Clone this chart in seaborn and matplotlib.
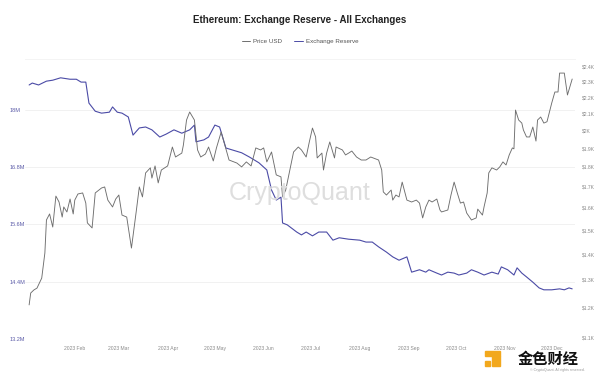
import matplotlib
matplotlib.use("Agg")
import matplotlib.pyplot as plt
import matplotlib.dates as mdates
import matplotlib.ticker as mticker
from matplotlib.lines import Line2D
from matplotlib.patches import Rectangle
import pandas as pd
import seaborn as sns

# ---------------- data ----------------
title = "Ethereum: Exchange Reserve - All Exchanges"
series_names = ["Price USD", "Exchange Reserve"]
watermark = "CryptoQuant"

month_ticks = ["2023-02-01", "2023-03-01", "2023-04-01", "2023-05-01", "2023-06-01",
               "2023-07-01", "2023-08-01", "2023-09-01", "2023-10-01", "2023-11-01",
               "2023-12-01"]
reserve_ticks_m = [13.2, 14.4, 15.6, 16.8, 18.0]          # million ETH
price_ticks_k = [1.1, 1.2, 1.3, 1.4, 1.5, 1.6, 1.7, 1.8, 1.9, 2.0, 2.1, 2.2, 2.3, 2.4]  # thousand USD

reserve_dates = [
    "2023-01-03", "2023-01-05", "2023-01-09", "2023-01-14", "2023-01-18", "2023-01-23",
    "2023-01-29", "2023-02-02", "2023-02-05", "2023-02-08", "2023-02-10", "2023-02-14",
    "2023-02-18", "2023-02-23", "2023-02-25", "2023-02-28", "2023-03-03", "2023-03-07",
    "2023-03-10", "2023-03-14", "2023-03-18", "2023-03-22", "2023-03-27", "2023-03-31",
    "2023-04-05", "2023-04-10", "2023-04-15", "2023-04-18", "2023-04-19", "2023-04-24",
    "2023-04-27", "2023-05-01", "2023-05-04", "2023-05-08", "2023-05-12", "2023-05-18",
    "2023-05-23", "2023-05-29", "2023-06-03", "2023-06-06", "2023-06-09", "2023-06-12",
    "2023-06-13", "2023-06-16", "2023-06-22", "2023-06-25", "2023-06-28", "2023-07-02",
    "2023-07-06", "2023-07-11", "2023-07-15", "2023-07-19", "2023-07-25", "2023-08-01",
    "2023-08-05", "2023-08-09", "2023-08-13", "2023-08-18", "2023-08-22", "2023-08-26",
    "2023-08-31", "2023-09-03", "2023-09-08", "2023-09-12", "2023-09-14", "2023-09-19",
    "2023-09-22", "2023-09-26", "2023-09-30", "2023-10-03", "2023-10-08", "2023-10-11",
    "2023-10-15", "2023-10-19", "2023-10-24", "2023-10-28", "2023-10-30", "2023-11-03",
    "2023-11-07", "2023-11-09", "2023-11-12", "2023-11-15", "2023-11-19", "2023-11-23",
    "2023-11-26", "2023-12-01", "2023-12-06", "2023-12-09", "2023-12-12", "2023-12-14",
]
reserve_millions = [
    18.52, 18.56, 18.52, 18.60, 18.62, 18.67,
    18.64, 18.64, 18.58, 18.58, 18.14, 17.97,
    17.93, 17.95, 18.06, 17.95, 17.93, 17.85,
    17.47, 17.62, 17.64, 17.58, 17.43, 17.49,
    17.58, 17.51, 17.58, 17.68, 17.33, 17.37,
    17.43, 17.68, 17.64, 17.20, 17.16, 17.10,
    17.01, 16.89, 16.74, 16.32, 16.11, 16.17,
    15.63, 15.59, 15.44, 15.38, 15.44, 15.36,
    15.44, 15.44, 15.27, 15.32, 15.29, 15.27,
    15.23, 15.23, 15.13, 15.02, 14.92, 14.85,
    14.92, 14.60, 14.65, 14.60, 14.65, 14.58,
    14.54, 14.60, 14.58, 14.54, 14.58, 14.65,
    14.60, 14.54, 14.60, 14.56, 14.71, 14.65,
    14.54, 14.69, 14.58, 14.50, 14.39, 14.27,
    14.23, 14.23, 14.25, 14.23, 14.27, 14.25,
]

price_dates = [
    "2023-01-03", "2023-01-04", "2023-01-06", "2023-01-08", "2023-01-11", "2023-01-13",
    "2023-01-14", "2023-01-16", "2023-01-18", "2023-01-20", "2023-01-22", "2023-01-24",
    "2023-01-25", "2023-01-27", "2023-01-29", "2023-01-31", "2023-02-01", "2023-02-03",
    "2023-02-06", "2023-02-08", "2023-02-09", "2023-02-12", "2023-02-14", "2023-02-18",
    "2023-02-20", "2023-02-22", "2023-02-25", "2023-02-27", "2023-03-01", "2023-03-03",
    "2023-03-06", "2023-03-09", "2023-03-12", "2023-03-14", "2023-03-16", "2023-03-18",
    "2023-03-21", "2023-03-22", "2023-03-24", "2023-03-26", "2023-03-28", "2023-04-01",
    "2023-04-04", "2023-04-06", "2023-04-10", "2023-04-11", "2023-04-13", "2023-04-15",
    "2023-04-18", "2023-04-20", "2023-04-22", "2023-04-25", "2023-04-27", "2023-04-30",
    "2023-05-02", "2023-05-05", "2023-05-10", "2023-05-15", "2023-05-18", "2023-05-21",
    "2023-05-24", "2023-05-27", "2023-05-30", "2023-06-01", "2023-06-03", "2023-06-06",
    "2023-06-09", "2023-06-12", "2023-06-13", "2023-06-15", "2023-06-17", "2023-06-20",
    "2023-06-23", "2023-06-25", "2023-06-28", "2023-06-30", "2023-07-02", "2023-07-04",
    "2023-07-05", "2023-07-08", "2023-07-09", "2023-07-11", "2023-07-13", "2023-07-16",
    "2023-07-17", "2023-07-21", "2023-07-23", "2023-07-25", "2023-07-27", "2023-07-30",
    "2023-08-02", "2023-08-05", "2023-08-08", "2023-08-13", "2023-08-15", "2023-08-16",
    "2023-08-18", "2023-08-21", "2023-08-22", "2023-08-24", "2023-08-26", "2023-08-28",
    "2023-08-31", "2023-09-03", "2023-09-06", "2023-09-08", "2023-09-10", "2023-09-12",
    "2023-09-14", "2023-09-16", "2023-09-19", "2023-09-21", "2023-09-22", "2023-09-26",
    "2023-09-28", "2023-09-30", "2023-10-02", "2023-10-04", "2023-10-06", "2023-10-08",
    "2023-10-11", "2023-10-14", "2023-10-15", "2023-10-18", "2023-10-19", "2023-10-21",
    "2023-10-22", "2023-10-24", "2023-10-27", "2023-10-29", "2023-10-31", "2023-11-02",
    "2023-11-04", "2023-11-06", "2023-11-07", "2023-11-08", "2023-11-10", "2023-11-12",
    "2023-11-13", "2023-11-15", "2023-11-17", "2023-11-19", "2023-11-21", "2023-11-22",
    "2023-11-24", "2023-11-26", "2023-11-28", "2023-12-01", "2023-12-03", "2023-12-05",
    "2023-12-06", "2023-12-09", "2023-12-11", "2023-12-14",
]
price_usd = [
    1210, 1252, 1263, 1270, 1307, 1405,
    1545, 1572, 1514, 1655, 1627, 1558,
    1604, 1581, 1641, 1572, 1636, 1665,
    1670, 1622, 1532, 1510, 1670, 1694,
    1699, 1636, 1604, 1641, 1660, 1567,
    1558, 1425, 1581, 1699, 1651, 1769,
    1795, 1743, 1805, 1719, 1784, 1805,
    1906, 1852, 1873, 1917, 2060, 2108,
    2060, 1890, 1852, 1868, 1906, 1831,
    1901, 1990, 1836, 1820, 1800, 1826,
    1805, 1901, 1890, 1901, 1826, 1879,
    1759, 1749, 1651, 1684, 1759, 1879,
    1906, 1890, 1852, 1934, 2013, 1962,
    1847, 1873, 1784, 1873, 1934, 1847,
    1906, 1890, 1863, 1873, 1884, 1852,
    1836, 1836, 1852, 1836, 1784, 1675,
    1660, 1684, 1636, 1660, 1651, 1723,
    1636, 1627, 1636, 1622, 1554, 1604,
    1636, 1627, 1641, 1590, 1581, 1590,
    1660, 1723, 1670, 1622, 1627, 1576,
    1545, 1554, 1594, 1567, 1604, 1670,
    1769, 1795, 1784, 1800, 1826, 1810,
    1863, 1901, 1896, 2120, 2060, 2042,
    2002, 1962, 1962, 2019, 1939, 2060,
    2078, 2042, 2050, 2163, 2233, 2233,
    2358, 2358, 2214, 2318,
]

# ---------------- style ----------------
sns.set_theme(style="white")
plt.rcParams["font.family"] = ["Liberation Sans", "DejaVu Sans"]

reserve_color = "#4b4ba6"
price_color = "#6e6e6e"

W, H = 600, 378
fig = plt.figure(figsize=(W / 100, H / 100), dpi=100)
fig.patch.set_facecolor("white")

left_px, right_px, top_px, bottom_px = 25, 575, 59, 339
ax = fig.add_axes([left_px / W, 1 - bottom_px / H, (right_px - left_px) / W, (bottom_px - top_px) / H])
ax2 = ax.twinx()

res_df = pd.DataFrame({"date": pd.to_datetime(reserve_dates),
                       "reserve": [v * 1e6 for v in reserve_millions]})
price_df = pd.DataFrame({"date": pd.to_datetime(price_dates), "price": price_usd})

sns.lineplot(data=res_df, x="date", y="reserve", ax=ax, color=reserve_color, lw=0.8)
sns.lineplot(data=price_df, x="date", y="price", ax=ax2, color=price_color, lw=0.65)

# x axis
ax.set_xlim(pd.Timestamp("2022-12-31 09:00"), pd.Timestamp("2023-12-15 19:00"))
ax.xaxis.set_major_locator(mticker.FixedLocator(mdates.date2num(pd.to_datetime(month_ticks))))
ax.xaxis.set_major_formatter(mdates.DateFormatter("%Y %b"))
ax.tick_params(axis="x", length=0, pad=5, labelsize=3.6, labelcolor="#8a8a8a")

# left axis (linear)
ax.set_ylim(13.2e6, 13.2e6 + (bottom_px - top_px) * 1.2e6 / 57.3)
ax.yaxis.set_major_locator(mticker.FixedLocator([v * 1e6 for v in reserve_ticks_m]))
ax.yaxis.set_major_formatter(mticker.FuncFormatter(lambda v, p: f"{v / 1e6:g}M"))
ax.tick_params(axis="y", length=0, pad=11, labelsize=4, labelcolor="#5c5ca8")
for lbl in ax.get_yticklabels():
    lbl.set_horizontalalignment("left")
ax.grid(axis="y", color="#ececec", lw=0.5)
ax.grid(axis="x", visible=False)

# right axis (log)
ax2.set_yscale("log")
ax2.set_ylim(1100 * 10 ** (-1 / 800), 1100 * 10 ** (279 / 800))
ax2.yaxis.set_major_locator(mticker.FixedLocator([v * 1000 for v in price_ticks_k]))
ax2.yaxis.set_minor_locator(mticker.NullLocator())
ax2.yaxis.set_major_formatter(mticker.FuncFormatter(lambda v, p: f"${v / 1000:g}K"))
ax2.tick_params(axis="y", length=0, pad=5, labelsize=3.6, labelcolor="#8a8a8a")
ax2.grid(False)

for a in (ax, ax2):
    a.set_xlabel("")
    a.set_ylabel("")
    for s in a.spines.values():
        s.set_visible(False)
ax.spines["top"].set_visible(True)
ax.spines["top"].set_color("#f2f2f2")
ax.spines["top"].set_linewidth(0.6)

# title & legend
fig.text(0.5, 1 - 20 / H, title, ha="center", va="center", fontsize=7, fontweight="bold", color="#222222")
handles = [Line2D([], [], color=price_color, lw=0.7), Line2D([], [], color=reserve_color, lw=0.7)]
fig.legend(handles, series_names, loc="center", bbox_to_anchor=(0.5, 1 - 41 / H), ncol=2,
           frameon=False, fontsize=4.5, handlelength=1.3, handletextpad=0.5, columnspacing=2.0,
           labelcolor="#555555")

# watermark
fig.text(0.5, 1 - 193 / H, watermark, ha="center", va="center", fontsize=18, color="#dedede", zorder=0)

# bottom-right logo watermark
logo_color = "#f2a81d"
fig.patches.append(Rectangle((485 / W, 1 - 356 / H), 15 / W, 5 / H, transform=fig.transFigure, color=logo_color))
fig.patches.append(Rectangle((492 / W, 1 - 366 / H), 8 / W, 10 / H, transform=fig.transFigure, color=logo_color))
fig.patches.append(Rectangle((485 / W, 1 - 366 / H), 5 / W, 5 / H, transform=fig.transFigure, color=logo_color))
fig.text(548 / W, 1 - 359 / H, "金色财经", ha="center", va="center", fontsize=11, fontweight="bold",
         color="#111111", family=["Noto Sans CJK SC", "DejaVu Sans"])
fig.text(557 / W, 1 - 370 / H, "© CryptoQuant. All rights reserved.", ha="center", va="center",
         fontsize=2.5, color="#999999")

fig.savefig("out.png", dpi=100, facecolor="white")
